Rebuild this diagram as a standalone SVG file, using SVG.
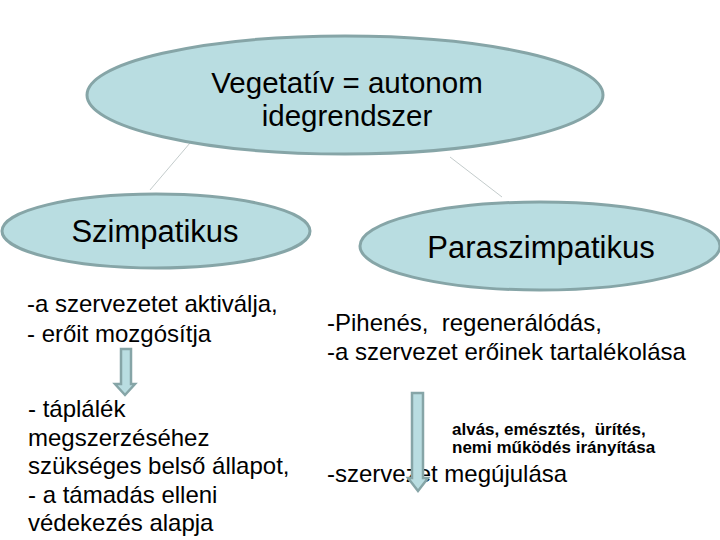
<svg xmlns="http://www.w3.org/2000/svg" width="720" height="540" viewBox="0 0 720 540">
<style>
.node ellipse{fill:#b9dde1;stroke:#86a5a7;stroke-width:3}
.conn line{stroke:#c4cccc;stroke-width:1}
.arrow{fill:#b9dde1;stroke:#86a5a7;stroke-width:2.5;stroke-linejoin:miter}
text{font-family:"Liberation Sans",Arial,sans-serif;fill:#000;white-space:pre}
.title{font-size:29.5px;text-anchor:middle}
.sub{font-size:31px;text-anchor:middle}
.body{font-size:24px}
.small{font-size:17px;font-weight:bold}
</style>
<rect width="720" height="540" fill="#ffffff"/>
<g id="connectors" class="conn">
<line x1="190" y1="143" x2="150" y2="190"/>
<line x1="450" y1="157" x2="502" y2="197"/>
</g>
<g id="node-vegetativ" class="node">
<ellipse cx="345" cy="95" rx="258" ry="59"/>
<text class="title" x="347" y="93">Vegetatív = autonom</text>
<text class="title" x="347" y="126">idegrendszer</text>
</g>
<g id="node-szimpatikus" class="node">
<ellipse cx="156" cy="231" rx="154" ry="37"/>
<text class="sub" x="155" y="242">Szimpatikus</text>
</g>
<g id="node-paraszimpatikus" class="node">
<ellipse cx="540" cy="246" rx="180" ry="44"/>
<text class="sub" x="541" y="258">Paraszimpatikus</text>
</g>
<g id="szimp-text">
<text class="body" x="27" y="312">-a szervezetet aktiválja,</text>
<text class="body" x="27" y="342">- erőit mozgósítja</text>
<text class="body" x="28" y="417">- táplálék</text>
<text class="body" x="28" y="445.5">megszerzéséhez</text>
<text class="body" x="28" y="474">szükséges belső állapot,</text>
<text class="body" x="28" y="502.5">- a támadás elleni</text>
<text class="body" x="28" y="531">védekezés alapja</text>
</g>
<g id="paraszimp-text">
<text class="body" x="327" y="331" xml:space="preserve">-Pihenés,  regenerálódás,</text>
<text class="body" x="327" y="360">-a szervezet erőinek tartalékolása</text>
<text class="small" x="452" y="435" xml:space="preserve">alvás, emésztés,  ürítés,</text>
<text class="small" x="452" y="453">nemi működés irányítása</text>
<text class="body" x="327" y="482">-szervezet megújulása</text>
</g>
<g id="arrows">
<path class="arrow" d="M121,349 H131 V384 H135 L125,395 L115,384 H121 Z"/>
<path class="arrow" d="M412,393 H423 V478 H428 L418,491 L408,478 H412 Z"/>
</g>
</svg>
